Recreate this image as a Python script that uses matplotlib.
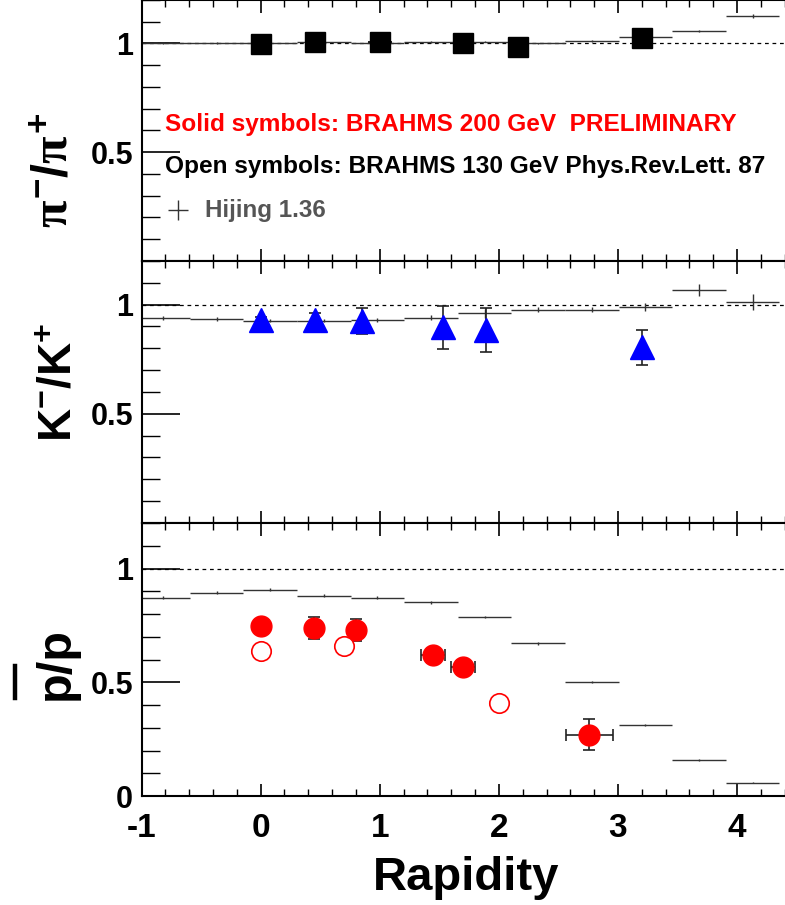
import numpy as np
import matplotlib
matplotlib.use("Agg")
import matplotlib.pyplot as plt
from matplotlib.ticker import MultipleLocator
from matplotlib.lines import Line2D

plt.rcParams['font.family'] = ['Liberation Sans', 'DejaVu Sans']
plt.rcParams['font.weight'] = 'bold'
plt.rcParams['mathtext.fontset'] = 'custom'
plt.rcParams['mathtext.rm'] = 'Liberation Sans:bold'
plt.rcParams['mathtext.it'] = 'Liberation Serif:bold'
plt.rcParams['mathtext.bf'] = 'Liberation Sans:bold'

# Hijing 1.36 bins (centre, half width 0.225)
hij_x = [-0.82, -0.37, 0.08, 0.53, 0.98, 1.43, 1.88, 2.33, 2.78, 3.23, 3.68, 4.13]
hij_pi = [1.0, 1.003, 1.0, 1.006, 1.003, 1.006, 1.009, 1.0, 1.012, 1.028, 1.057, 1.126]
hij_pi_err = [0.004, 0.004, 0.004, 0.004, 0.004, 0.004, 0.004, 0.004, 0.004, 0.005, 0.006, 0.008]
hij_k = [0.939, 0.935, 0.927, 0.927, 0.930, 0.941, 0.961, 0.977, 0.977, 0.988, 1.068, 1.011]
hij_k_err = [0.01, 0.008, 0.008, 0.008, 0.008, 0.01, 0.02, 0.012, 0.012, 0.018, 0.027, 0.036]
hij_p = [0.872, 0.894, 0.907, 0.881, 0.872, 0.852, 0.787, 0.671, 0.502, 0.311, 0.159, 0.059]
hij_p_err = [0.006, 0.006, 0.006, 0.006, 0.006, 0.006, 0.006, 0.006, 0.005, 0.004, 0.003, 0.002]

# BRAHMS 200 GeV (solid)
pi_x = [0.0, 0.46, 1.0, 1.7, 2.16, 3.2]
pi_y = [0.998, 1.006, 1.006, 1.0, 0.986, 1.026]
pi_xerr = [0.0, 0.0, 0.1, 0.0, 0.0, 0.0]
pi_yerr = [0.01, 0.01, 0.015, 0.01, 0.01, 0.01]

k_x = [0.0, 0.46, 0.85, 1.53, 1.89, 3.2]
k_y = [0.932, 0.932, 0.924, 0.896, 0.883, 0.805]
k_yerr = [0.01, 0.03, 0.06, 0.1, 0.1, 0.08]

p_x = [0.0, 0.45, 0.8, 1.45, 1.7, 2.76]
p_y = [0.747, 0.739, 0.728, 0.62, 0.568, 0.27]
p_xerr = [0.0, 0.0, 0.0, 0.1, 0.1, 0.2]
p_yerr = [0.02, 0.05, 0.048, 0.02, 0.02, 0.069]

# BRAHMS 130 GeV (open)
p130_x = [0.0, 0.7, 2.0]
p130_y = [0.639, 0.658, 0.41]

fig = plt.figure(figsize=(7.85, 9.05), dpi=100)
W, H = 785.0, 905.0
left = 141.5 / W
panels = [(0, 261), (261, 523), (523, 796)]
axes = []
for top, bot in panels:
    ax = fig.add_axes([left, 1 - bot / H, 1 - left + 0.002, (bot - top) / H])
    axes.append(ax)

hcol = '#333333'
for i, ax in enumerate(axes):
    ax.set_xlim(-1, 4.415)
    ax.set_ylim(0, 1.2)
    ax.axhline(1.0, color='black', ls=(0, (3, 3)), lw=0.9, zorder=1)
    ax.xaxis.set_major_locator(MultipleLocator(1))
    ax.xaxis.set_minor_locator(MultipleLocator(0.2))
    ax.yaxis.set_major_locator(MultipleLocator(0.5))
    ax.yaxis.set_minor_locator(MultipleLocator(0.1))
    ax.tick_params(axis='x', which='major', direction='in', length=9, width=1.2,
                   top=True, bottom=True, labelsize=24, pad=12)
    ax.tick_params(axis='x', which='minor', direction='in', length=5, width=1.0,
                   top=True, bottom=True)
    ax.tick_params(axis='y', which='major', direction='in', length=27, width=1.2,
                   labelsize=22, pad=6)
    ax.tick_params(axis='y', which='minor', direction='in', length=13, width=1.0)
    for s in ax.spines.values():
        s.set_linewidth(1.5)
    if i < 2:
        ax.set_yticks([0.5, 1.0])
        ax.set_yticklabels(['0.5', '1'])
        ax.tick_params(axis='x', labelbottom=False)
    else:
        ax.set_yticks([0.0, 0.5, 1.0])
        ax.set_yticklabels(['0', '0.5', '1'])
        ax.set_xticks([-1, 0, 1, 2, 3, 4])
        ax.set_xticklabels(['-1', '0', '1', '2', '3', '4'])
    for lab in ax.get_xticklabels() + ax.get_yticklabels():
        lab.set_fontweight('bold')

ax1, ax2, ax3 = axes

# Hijing
for ax, hy, he in [(ax1, hij_pi, hij_pi_err), (ax2, hij_k, hij_k_err), (ax3, hij_p, hij_p_err)]:
    ax.errorbar(hij_x, hy, xerr=0.225, yerr=he, fmt='none', ecolor=hcol,
                elinewidth=1.0, capsize=0, zorder=2)

# pi-/pi+
ax1.errorbar(pi_x, pi_y, xerr=pi_xerr, yerr=pi_yerr, fmt='s', color='black',
             ms=14, ecolor='black', elinewidth=1.2, capsize=0, zorder=3)

# K-/K+
ax2.errorbar(k_x, k_y, yerr=k_yerr, fmt='none', ecolor='#222222',
             elinewidth=1.2, capsize=4, capthick=1.2, zorder=3)
ax2.plot(k_x, k_y, '^', color='#0000ff', ms=17, mec='#0000ff', zorder=4, ls='none')

# pbar/p
ax3.errorbar(p_x, p_y, xerr=p_xerr, yerr=p_yerr, fmt='none', ecolor='#222222',
             elinewidth=1.2, capsize=4, capthick=1.2, zorder=3)
ax3.plot(p_x, p_y, 'o', color='#ff0000', ms=15, zorder=4, ls='none')
ax3.plot(p130_x, p130_y, 'o', mfc='white', mec='#ff0000', mew=1.2, ms=14,
         zorder=4, ls='none')

# legend text in top panel
fig.text(165 / W, 1 - 125 / H, 'Solid symbols: BRAHMS 200 GeV  PRELIMINARY',
         color='#ff0000', fontsize=17.6, fontweight='bold', va='center', ha='left')
fig.text(165 / W, 1 - 167 / H, 'Open symbols: BRAHMS 130 GeV Phys.Rev.Lett. 87',
         color='black', fontsize=17.6, fontweight='bold', va='center', ha='left')
ax1.plot([-0.69], [0.234], marker='+', color='#333333', ms=14, mew=1.0, ls='none')
ax1.text(-0.47, 0.234, 'Hijing 1.36', color='#555555', fontsize=17.4,
         fontweight='bold', va='center', ha='left')

# y titles
fig.text(54 / W, 1 - 170 / H, r'$\pi^{\mathrm{-}}\mathrm{/}\pi^{\mathrm{+}}$',
         rotation=90, fontsize=36, ha='center', va='center')
fig.text(60 / W, 1 - 382 / H, r'$\mathrm{K^{-}/K^{+}}$', rotation=90, fontsize=33,
         ha='center', va='center')
fig.text(56 / W, 1 - 663 / H, 'p/p', rotation=90, fontsize=35, fontweight='bold',
         ha='center', va='center')
fig.add_artist(Line2D([15 / W, 15 / W], [1 - 698 / H, 1 - 666 / H], color='black',
                      lw=3.2, transform=fig.transFigure))

fig.text(466 / W, 1 - 878 / H, 'Rapidity', fontsize=34, fontweight='bold',
         ha='center', va='center')

fig.savefig('out.png', dpi=100)
